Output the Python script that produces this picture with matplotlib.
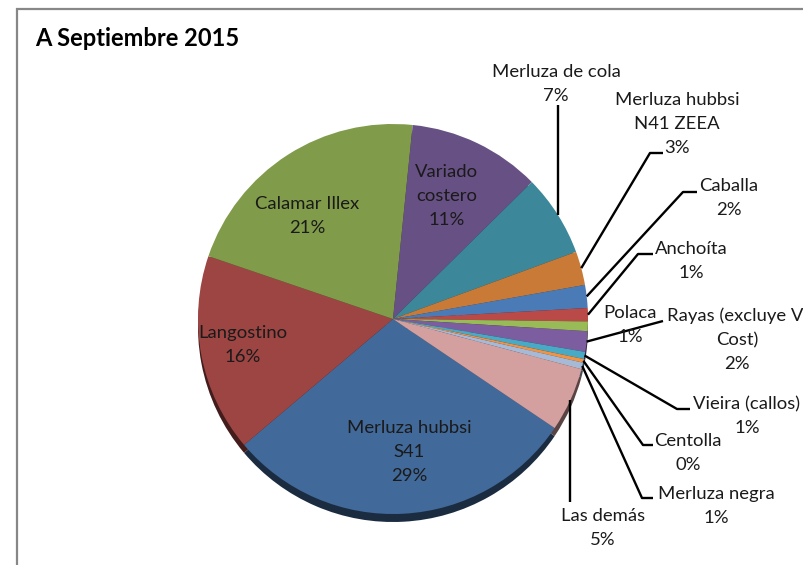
import matplotlib
matplotlib.use("Agg")
import matplotlib.pyplot as plt
import numpy as np

# ---- data ----
categories = ["Merluza hubbsi\nS41", "Langostino", "Calamar Illex", "Variado\ncostero",
              "Merluza de cola", "Merluza hubbsi\nN41 ZEEA", "Caballa", "Anchoíta", "Polaca",
              "Rayas (excluye V.\nCost)", "Vieira (callos)", "Centolla", "Merluza negra", "Las demás"]
values = [29.4, 16.4, 21.4, 11.0, 6.8, 2.8, 1.9, 1.1, 0.8, 1.7, 0.6, 0.3, 0.55, 5.3]
colors = ["#41699a", "#9c4543", "#809b4a", "#675083", "#3c889a", "#c87a36", "#4a7bb7",
          "#b94a47", "#98ba57", "#7b5da0", "#48aac4", "#f4923f", "#a6b9d6", "#d3a09f"]

W, H = 804, 565
fig = plt.figure(figsize=(W / 100, H / 100), dpi=100)
ax = fig.add_axes([0, 0, 1, 1])

FONT = "Lato"

def P(px, py):
    return (px, H - py)

cx, cy, R = 393, 319, 195
start = 90 - 124

# 3D side (shadow) layer
dark = [tuple(np.array(matplotlib.colors.to_rgb(c)) * 0.42) for c in colors]
ax.pie(values, colors=dark, startangle=start, counterclock=False,
       center=P(cx, cy + 8), radius=R, frame=True,
       wedgeprops=dict(linewidth=0))
wedges, _ = ax.pie(values, colors=colors, startangle=start, counterclock=False,
                   center=P(cx, cy), radius=R, frame=True,
                   wedgeprops=dict(linewidth=0))
ax.set_xlim(0, W)
ax.set_ylim(0, H)
ax.set_aspect("equal")
ax.axis("off")

total = sum(values)
labels = [f"{c}\n{int(v / total * 100 + 0.5)}%" for c, v in zip(categories, values)]

# label centres (px) and leader-line paths (px, after the wedge anchor)
label_pos = [(409, 452), (243, 345), (307, 216), (447, 196), (556, 84), (677, 124),
             (729, 198), (691, 261), (630, 325), (737, 340), (747, 416), (688, 453),
             (716, 506), (603, 528)]
leaders = {4: "vert105", 5: [(650, 153), (663, 153)], 6: [(683, 192), (697, 192)],
           7: [(638, 254), (653, 254)], 9: [(663, 321)], 10: [(677, 409), (690, 409)],
           11: [(643, 445), (653, 445)], 12: [(642, 498), (653, 498)], 13: "vert502"}

for i, (w, lab) in enumerate(zip(wedges, labels)):
    x, y = label_pos[i]
    ax.text(x, H - y, lab, ha="center", va="center", fontsize=13.3, family=FONT,
            linespacing=1.62, color="#1a1a1a", zorder=5)
    if i in leaders:
        th = np.deg2rad((w.theta1 + w.theta2) / 2)
        ax_x = w.center[0] + R * np.cos(th)
        ax_y = w.center[1] + R * np.sin(th)
        spec = leaders[i]
        if isinstance(spec, str):
            yend = int(spec[4:])
            pts = [(ax_x, ax_y), (ax_x, H - yend)]
        else:
            pts = [(ax_x, ax_y)] + [P(px, py) for px, py in spec]
        xs, ys = zip(*pts)
        ax.plot(xs, ys, color="black", lw=1.7, solid_capstyle="butt", zorder=4)

# title
ax.text(35, H - 39, "A Septiembre 2015", ha="left", va="center", fontsize=17,
        fontweight="bold", family=FONT, color="black")

# chart border
ax.plot([17, 17, W + 5], [-5, H - 9, H - 9], color="#878787", lw=1.6, zorder=6,
        solid_joinstyle="miter")

fig.savefig("out.png", dpi=100)
